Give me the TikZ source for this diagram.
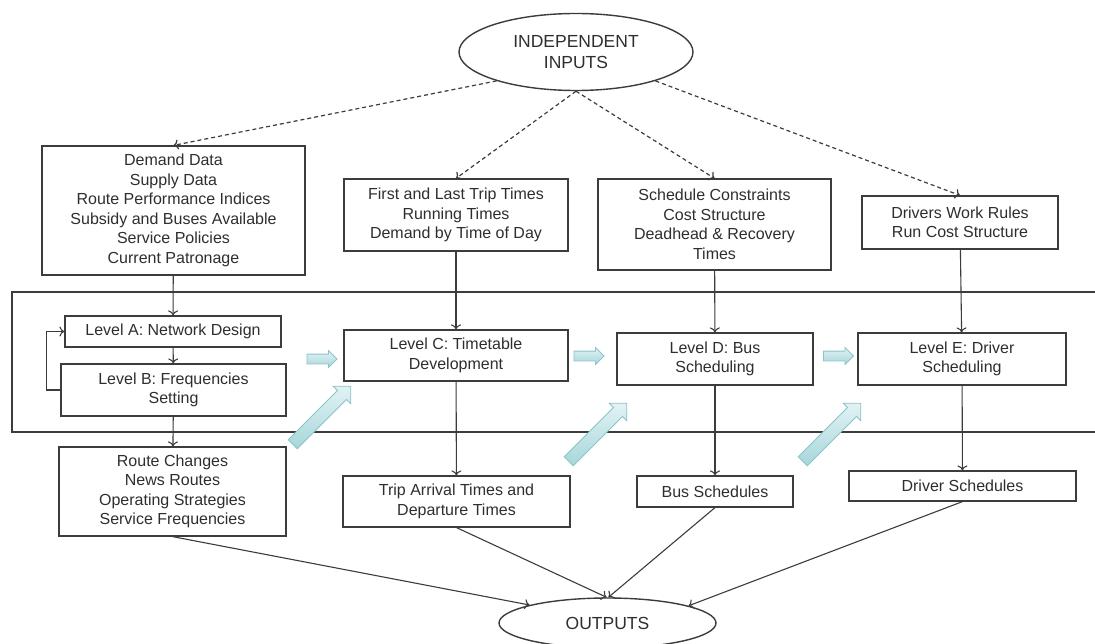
\documentclass[tikz,border=0pt]{standalone}
\usepackage{fontspec}
\setmainfont{Liberation Sans}
\usetikzlibrary{arrows,arrows.meta,shapes.geometric,shapes.arrows}

\definecolor{boxline}{HTML}{3C3C3C}
\definecolor{boxtext}{HTML}{2E2E2E}
\definecolor{blkfill}{HTML}{C4E6EA}
\definecolor{blkedge}{HTML}{8CC3C9}

\begin{document}
\begin{tikzpicture}[x=1pt,y=-1pt,
    box/.style={draw=boxline, line width=1.2pt, text=boxtext, align=center, inner sep=0pt,
        font=\fontsize{16}{19.5}\selectfont},
    oval/.style={ellipse, draw=boxline, line width=1.4pt, text=boxtext, align=center, inner sep=0pt,
        font=\fontsize{17.5}{21.5}\selectfont},
    link/.style={-{To[length=5pt,width=10pt]}, draw=boxline, line width=1.1pt},
    dlink/.style={link, line width=1.2pt, dash pattern=on 4pt off 3pt},
    blk/.style={single arrow, draw=blkedge, line width=0.8pt,
        top color=blkfill!50!white, bottom color=blkfill!85!teal, single arrow tip angle=90}]

\useasboundingbox (0,0) rectangle (1095,644);

\node [oval, minimum width=234, minimum height=77] (in) at (576,52) {INDEPENDENT\\INPUTS};

\node [box, minimum width=263, minimum height=129] (box1) at (173.5,210.5)
    {Demand Data\\Supply Data\\Route Performance Indices\\Subsidy and Buses Available\\Service Policies\\Current Patronage};
\node [box, minimum width=224, minimum height=72] (box2) at (456,215)
    {First and Last Trip Times\\Running Times\\Demand by Time of Day};
\node [box, minimum width=233, minimum height=91] (box3) at (714.5,224.5)
    {Schedule Constraints\\Cost Structure\\Deadhead \& Recovery\\Times};
\node [box, minimum width=196, minimum height=53] (box4) at (960,222.5)
    {Drivers Work Rules\\Run Cost Structure};

\draw [boxline, line width=1.6pt] (1096,292) -- (12,292) -- (12,432) -- (1096,432);

\node [box, minimum width=216, minimum height=31] (lA) at (173,331.5) {Level A: Network Design};
\node [box, minimum width=225, minimum height=52] (lB) at (173.5,390) {Level B: Frequencies\\Setting};
\node [box, minimum width=224, minimum height=51] (lC) at (456,355.5) {Level C: Timetable\\Development};
\node [box, minimum width=196, minimum height=52] (lD) at (715,359) {Level D: Bus\\Scheduling};
\node [box, minimum width=208, minimum height=52] (lE) at (962,359) {Level E: Driver\\Scheduling};

\node [box, minimum width=227, minimum height=89] (route) at (172.5,491.5)
    {Route Changes\\News Routes\\Operating Strategies\\Service Frequencies};
\node [box, minimum width=227, minimum height=51] (trip) at (456.5,501.5)
    {Trip Arrival Times and\\Departure Times};
\node [box, minimum width=156, minimum height=31] (bus) at (715,491.5) {Bus Schedules};
\node [box, minimum width=227, minimum height=30] (drv) at (962.5,486) {Driver Schedules};

\node [oval, minimum width=217, minimum height=50] (out) at (607.5,623) {OUTPUTS};

\foreach \a/\b in {200/box1, 270/box2, 270/box3, 340/box4}
    \draw [dlink] (in.\a) -- (\b.north);

\foreach \a/\b in {box1/lA, lA/lB, lB/route, box2/lC, lC/trip, box3/lD, lD/bus, box4/lE, lE/drv}
    \draw [link] (\a) -- (\b);

\draw [link] (lB.west) -- ++(-14,0) |- (lA.west);

\foreach \a/\b in {route/167, trip/92, bus/88, drv/12}
    \draw [link] (\a.south) -- (out.\b);

\foreach \n/\x/\y in {h1/319.5/359, h2/586.5/356, h3/836/356}
    \node [blk, minimum height=30, inner ysep=4.5pt, single arrow head extend=3.5pt] (\n) at (\x,\y) {};

\foreach \n/\x/\y in {d1/319.5/417.5, d2/595.5/434.5, d3/829.5/434.5}
    \node [blk, rotate=45, minimum height=82, inner ysep=6pt, single arrow head extend=6pt] (\n) at (\x,\y) {};

\end{tikzpicture}
\end{document}
